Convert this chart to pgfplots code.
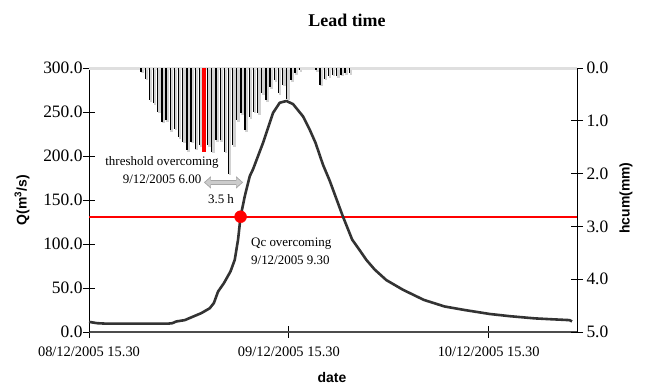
\documentclass[border=0pt]{standalone}
\usepackage{fontspec}
\setmainfont{Liberation Serif}
\newfontfamily\sansf{Liberation Sans}
\usepackage{pgfplots}
\usepackage{pgfplotstable}
\pgfplotsset{compat=1.18}
\usetikzlibrary{arrows.meta}
\definecolor{curve}{HTML}{333333}

\pgfplotstableread{
t Q
0.0 11.5
1.0 10
2.0 9.5
5.0 9.5
9.5 9.5
10.0 10
10.5 12
11.5 13.5
12.5 17.5
13.5 21.5
14.5 27
15.0 33
15.5 46
16.2 55.5
17.0 69
17.5 82
17.9 105
18.2 131
18.7 154
19.3 177
19.7 185
20.9 215
22.1 249
22.9 260.5
23.7 262.5
24.5 259
25.7 245
26.5 230
27.2 215
28.1 190
28.9 172
30.5 131
31.6 105
32.5 93
33.3 82
34.3 71
35.7 59
37.7 48
40.2 36.5
42.7 29
45.1 25
48.1 20.5
50.5 18
53.5 15.5
55.5 14.5
57.7 13.5
58.0 12
}\flow

\pgfplotstableread{
t h
6.25 0.07
6.75 0.20
7.25 0.61
7.75 0.67
8.25 0.83
8.75 1.02
9.25 0.99
9.75 1.18
10.25 1.15
10.75 1.31
11.25 1.40
11.75 1.56
12.25 1.40
12.75 1.53
13.25 1.46
14.25 1.46
14.75 1.59
15.25 1.37
15.75 1.37
16.25 1.59
16.75 2.00
17.25 1.46
17.75 0.99
18.25 0.86
18.75 1.18
19.25 0.93
19.75 0.83
20.25 0.86
20.75 0.48
21.25 0.61
21.75 0.36
22.25 0.23
22.75 0.48
23.25 0.32
23.75 0.58
24.25 0.23
24.75 0.10
25.25 0.04
27.25 0.04
27.75 0.32
28.25 0.20
28.75 0.16
29.25 0.13
29.75 0.16
30.25 0.13
30.75 0.10
31.25 0.10
}\rain

\begin{document}
\begin{tikzpicture}
\pgfplotsset{
  base/.style={scale only axis, width=488bp, height=264bp, at={(89bp,59bp)},
    anchor=south west, xmin=0, xmax=58.6, clip=false,
    tick align=center, major tick length=12bp,
    /pgf/number format/assume math mode=true,
    tick style={black, line width=0.8bp}},
}
\begin{axis}[base, ymin=0, ymax=300,
  axis x line*=bottom, axis y line*=left,
  ytick={0,50,...,300},
  yticklabel style={xshift=3bp, font=\fontsize{17.5}{20}\selectfont, /pgf/number format/.cd, fixed, fixed zerofill, precision=1},
  xtick={0,24,48},
  xticklabels={08/12/2005 15.30,09/12/2005 15.30,10/12/2005 15.30},
  xticklabel style={yshift=-5bp, font=\fontsize{14.5}{16}\selectfont},
  x axis line style={gray!60!black, line width=1.3bp},
  y axis line style={black, line width=0.8bp}]
\addplot[red, line width=1.6bp] coordinates {(0,131) (58.6,131)};
\addplot[curve, line width=2.6bp, line join=round] table[x=t, y=Q] {\flow};
\addplot[only marks, mark=*, mark size=6bp, red] coordinates {(18.2,131)};
\node[align=center, font=\fontsize{13}{18}\selectfont] at (axis cs:8.77,184) {threshold overcoming\\9/12/2005 6.00};
\draw[{Triangle[length=7bp,width=12bp]}-{Triangle[length=7bp,width=12bp]}, line width=5.5bp, gray!70] (axis cs:13.8,170) -- (axis cs:18.5,170);
\draw[{Triangle[length=5.5bp,width=9bp]}-{Triangle[length=5.5bp,width=9bp]}, line width=3.5bp, gray!40] (axis cs:13.95,170) -- (axis cs:18.35,170);
\node[font=\fontsize{13}{15}\selectfont] at (axis cs:15.85,151) {3.5 h};
\node[align=left, anchor=west, inner sep=0pt, font=\fontsize{13}{18}\selectfont] at (axis cs:19.45,92) {Qc overcoming\\9/12/2005 9.30};
\end{axis}
\begin{axis}[base, ymin=0, ymax=5, y dir=reverse,
  axis y line*=right, axis x line=none,
  ytick={0,1,...,5},
  yticklabel style={font=\fontsize{17.5}{20}\selectfont, /pgf/number format/.cd, fixed, fixed zerofill, precision=1},
  y axis line style={black, line width=0.8bp}]
\addplot[gray!25, line width=3bp] coordinates {(0,0) (58.6,0)};
\addplot[ycomb, gray!35, line width=2.6bp, xshift=1.6bp, yshift=-1.5bp] table[x=t, y=h] {\rain};
\addplot[ycomb, black, line width=1.3bp] table[x=t, y=h] {\rain};
\addplot[ycomb, red, line width=4bp] coordinates {(13.75,1.59)};
\end{axis}
\node[font=\fontsize{18}{20}\selectfont\bfseries] at (347bp,371bp) {Lead time};
\node[font=\sansf\fontsize{14}{16}\selectfont\bfseries, rotate=90] at (22bp,191bp) {Q(m\textsuperscript{3}/s)};
\node[font=\sansf\fontsize{14}{16}\selectfont\bfseries, rotate=90] at (626bp,193bp) {hcum(mm)};
\node[font=\sansf\fontsize{14}{16}\selectfont\bfseries] at (332bp,13bp) {date};
\pgfresetboundingbox
\path[use as bounding box] (0,0) rectangle (645bp,391bp);
\end{tikzpicture}
\end{document}
